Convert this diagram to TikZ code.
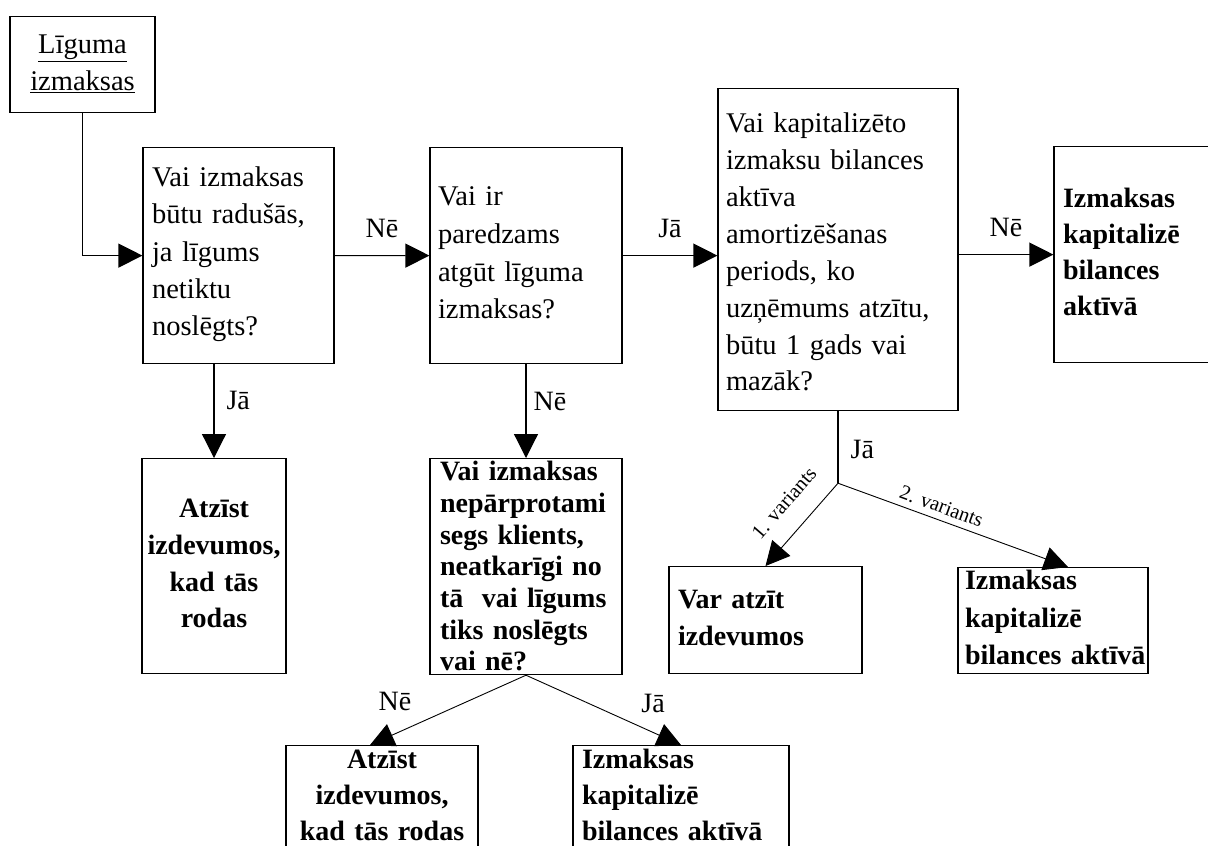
\documentclass[tikz,border=0pt]{standalone}
\usepackage{fontspec}
\setmainfont{Liberation Serif}
\usetikzlibrary{arrows.meta,calc}
\hyphenpenalty=10000
\exhyphenpenalty=10000
\newcommand\ztop[1]{\rule{0pt}{#1}}
\newcommand\zbot[1]{\rule[-#1]{0pt}{#1}}
\begin{document}
\begin{tikzpicture}[x=1pt,y=-1pt,
  box/.style={draw=black, line width=1.2pt, fill=white, rectangle, inner ysep=0pt, inner xsep=8pt, anchor=north},
  rmf/.style={font=\fontsize{28.5}{#1}\selectfont},
  bff/.style={font=\fontsize{28}{#1}\selectfont\bfseries},
  arr/.style={line width=1.2pt, -{Triangle[length=24pt,width=24pt]}},
  darr/.style={line width=0.9pt, -{Triangle[length=24pt,width=24pt]}},
  lbl/.style={font=\fontsize{28}{34}\selectfont, inner sep=0pt},
  vlbl/.style={font=\fontsize{20.5}{24}\selectfont, inner sep=0pt},
]
\useasboundingbox (0,0) rectangle (1208,846);
\clip (0,0) rectangle (1208,846);
\fill[white] (0,0) rectangle (1208,846);

% boxes
\node[box, rmf=37, text width=129pt, align=center] (A) at (82.5,16)
  {\ztop{37pt}\underline{Līguma}\\\underline{izmaksas}\zbot{22pt}};
\node[box, rmf=37.25, inner xsep=9pt, text width=173pt, align=left] (B) at (238.5,147)
  {\ztop{39pt}Vai izmaksas\\būtu radušās,\\ja līgums\\netiktu\\noslēgts?\zbot{28pt}};
\node[box, rmf=37.7, text width=176pt, align=left] (C) at (526,147)
  {\ztop{58pt}Vai ir\\paredzams\\atgūt līguma\\izmaksas?\zbot{44.9pt}};
\node[box, rmf=36.9, text width=224pt, align=left] (D) at (838,88)
  {\ztop{44pt}Vai kapitalizēto\\izmaksu bilances\\aktīva\\amortizēšanas\\periods, ko\\uzņēmums atzītu,\\būtu 1 gads vai\\mazāk?\zbot{19.7pt}};
\node[box, bff=36, inner xsep=9pt, text width=222pt, align=left] (E) at (1174,146)
  {\ztop{61pt}Izmaksas\\kapitalizē\\bilances\\aktīvā\zbot{47pt}};
\node[box, bff=31.7, inner xsep=10pt, text width=172pt, align=left] (F) at (526,458)
  {\ztop{22pt}Vai izmaksas\\nepārprotami\\segs klients,\\neatkarīgi no\\tā\ \ vai līgums\\tiks noslēgts\\vai nē?\zbot{3.8pt}};
\node[box, bff=36.7, inner xsep=4pt, text width=136pt, align=center] (G) at (214,458)
  {\ztop{59pt}Atzīst\\izdevumos,\\kad tās\\rodas\zbot{45.9pt}};
\node[box, bff=36, text width=176pt, align=center] (H) at (382,745)
  {\ztop{23pt}Atzīst\\izdevumos,\\kad tās rodas\zbot{150pt}};
\node[box, bff=36, inner xsep=9pt, text width=198pt, align=left] (I) at (681,745)
  {\ztop{23pt}Izmaksas\\kapitalizē\\bilances~aktīvā\zbot{150pt}};
\node[box, bff=37, inner xsep=9pt, text width=175pt, align=left] (J) at (765.5,566)
  {\ztop{42pt}Var atzīt\\izdevumos\zbot{28pt}};
\node[box, bff=37.5, inner xsep=7pt, text width=176pt, align=left] (K) at (1053,567)
  {\ztop{22pt}Izmaksas\\kapitalizē\\bilances~aktīvā\zbot{9pt}};

% connectors
\draw[arr] (A.south) |- (B.west);
\draw[arr] (B.east) -- node[lbl, above=17pt] {Nē} (C.west);
\draw[arr] (C.east) -- node[lbl, above=17pt] {Jā} (C.east -| D.west);
\draw[arr] (E.west -| D.east) -- node[lbl, above=17pt] {Nē} (E.west);
\draw[arr] (B.south -| G.north) -- node[lbl, pos=0.48, anchor=base west, xshift=12pt] {Jā} (G.north);
\draw[arr] (C.south) -- node[lbl, pos=0.49, anchor=base west, xshift=7pt] {Nē} (F.north);
\coordinate (split) at ($(D.south)+(0,72)$);
\draw[line width=1.2pt] (D.south) -- node[lbl, pos=0.65, anchor=base west, xshift=12pt] {Jā} (split);
\draw[darr] (split) -- (J.north);
\draw[darr] (split) -- ([xshift=15pt]K.north);
\draw[darr] (F.south) -- node[lbl, pos=0.84, anchor=base, yshift=23pt] {Nē} ([xshift=-12pt]H.north);
\draw[darr] (F.south) -- node[lbl, pos=0.82, anchor=base, yshift=20pt] {Jā} (I.north);
\node[vlbl, rotate=49] (v1) at ($(split)!0.24!(J.north)+(-36.5,0)$) {1. variants};
\node[vlbl, rotate=-20] (v2) at ($(split)+(103.5,23)$) {2. variants};
\end{tikzpicture}
\end{document}
